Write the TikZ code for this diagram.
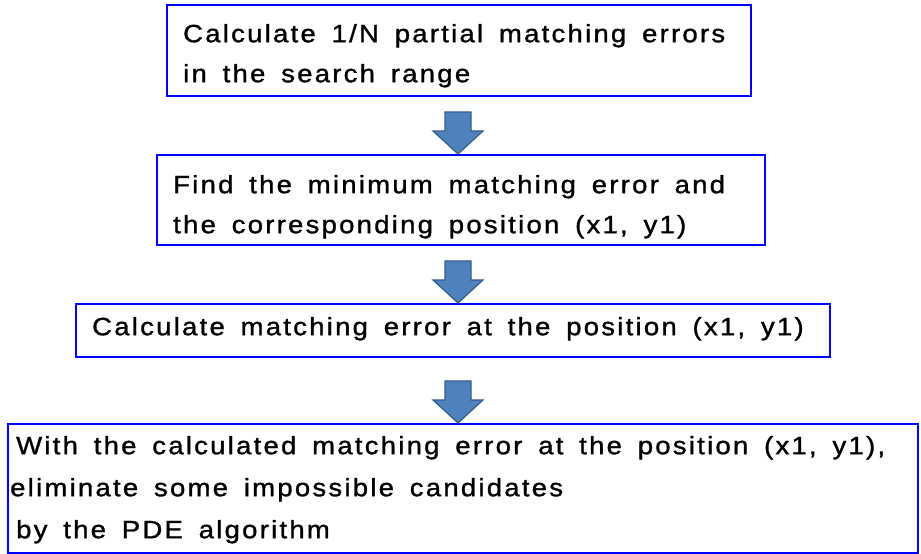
\documentclass[tikz,border=0pt]{standalone}
\usepackage{fontspec}
\setmainfont[FakeStretch=1.1,LetterSpace=9,WordSpace=1.6,FakeBold=1.2]{Liberation Sans}
\definecolor{boxblue}{RGB}{0,0,255}
\definecolor{arrowfill}{RGB}{79,129,189}
\definecolor{arrowline}{RGB}{56,93,138}
\tikzset{
  stepbox/.style={draw=boxblue, line width=2pt, rectangle, inner sep=0pt},
  steptext/.style={anchor=north west, inner sep=0pt, align=left, text=black},
  blockarrow/.style={fill=arrowfill, draw=arrowline, line width=1.2pt, line join=miter}
}
\newcommand{\bigfont}{\fontsize{25}{40}\selectfont}
\newcommand{\bigfontb}{\fontsize{25}{42}\selectfont}
\begin{document}
\begin{tikzpicture}[x=1pt,y=1pt]
\useasboundingbox[fill=white] (0,0) rectangle (921,554);
% boxes
\node[stepbox, minimum width=584pt, minimum height=91pt] (b1) at (459,503.5) {};
\node[stepbox, minimum width=608pt, minimum height=90pt] (b2) at (461,354) {};
\node[stepbox, minimum width=754pt, minimum height=53pt] (b3) at (453,223.5) {};
\node[stepbox, minimum width=910pt, minimum height=129pt] (b4) at (463,65.5) {};
% texts
\node[steptext, font=\bigfont] (t1) at (183,540) {\strut Calculate 1/N partial matching errors\\\strut in the search range};
\node[steptext, font=\bigfont] (t2) at (173,389) {\strut Find the minimum matching error and\\\strut the corresponding position (x1, y1)};
\node[steptext, font=\bigfont] (t3) at (92,247) {\strut Calculate matching error at the position (x1, y1)};
\node[steptext, font=\bigfontb] (t4) at (10,129.4) {\strut\hspace{6pt}With the calculated matching error at the position (x1, y1),\\\strut eliminate some impossible candidates\\\strut\hspace{6pt}by the PDE algorithm};
% block arrows
\coordinate (a1) at (458,0 |- b2.north);
\coordinate (a2) at (458,0 |- b3.north);
\coordinate (a3) at (458,0 |- b4.north);
\foreach \t in {a1,a2,a3}{
  \draw[blockarrow] (\t) -- ++(-25,23) -- ++(12,0) -- ++(0,19) -- ++(26,0) -- ++(0,-19) -- ++(12,0) -- cycle;
}
\end{tikzpicture}
\end{document}
